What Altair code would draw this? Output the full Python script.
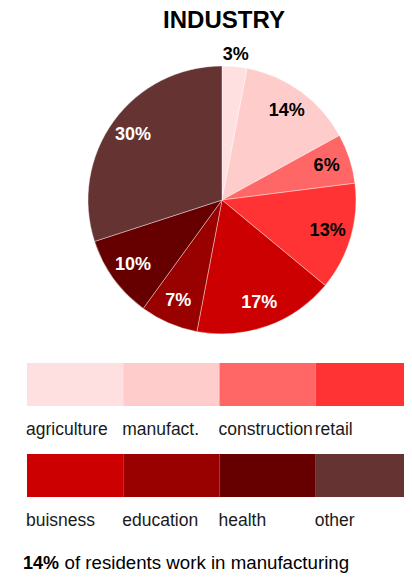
import altair as alt
import pandas as pd

categories = ["agriculture", "manufact.", "construction", "retail",
              "buisness", "education", "health", "other"]
shares = [3, 14, 6, 13, 17, 7, 10, 30]
palette = ["#ffe0e0", "#ffcccc", "#ff6666", "#ff3333",
           "#cc0000", "#990000", "#660000", "#663333"]
title_text = "INDUSTRY"
footer_bold = "14%"
footer_rest = "of residents work in manufacturing"

df = pd.DataFrame({"category": categories, "share": shares,
                   "idx": list(range(len(categories)))})
df["label"] = df["share"].astype(str) + "%"
df["row"] = df["idx"] // 4
df["col"] = df["idx"] % 4

FONT = "Liberation Sans"
W = 396
color_scale = alt.Scale(domain=categories, range=palette)
CX, CY = 214, 192

base = alt.Chart(df).encode(
    theta=alt.Theta("share:Q", stack=True),
    order=alt.Order("idx:Q", sort="ascending"),
    x=alt.value(CX),
    y=alt.value(CY),
)
arcs = base.mark_arc(outerRadius=134, stroke="#ffffff", strokeWidth=0.4).encode(
    color=alt.Color("category:N", scale=color_scale, legend=None)
)
inner = base.mark_text(radius=110, fontSize=18, fontWeight="bold", font=FONT).encode(
    text=alt.condition("datum.share >= 5", alt.Text("label:N"), alt.value("")),
    color=alt.condition("datum.idx < 4", alt.value("#000000"), alt.value("#ffffff")),
)
outer = base.mark_text(radius=146, fontSize=18, fontWeight="bold", font=FONT,
                       color="#000000").encode(
    text=alt.condition("datum.share < 5", alt.Text("label:N"), alt.value("")),
)
title = alt.Chart(pd.DataFrame({"t": [title_text]})).mark_text(
    fontSize=24, fontWeight="bold", font=FONT, color="#000000",
    baseline="alphabetic"
).encode(text="t:N", x=alt.value(216), y=alt.value(20))

pie = alt.layer(arcs, inner, outer, title).properties(width=W, height=355)

xs = alt.Scale(range=[19, 404], paddingInner=0, paddingOuter=0)
ys = alt.Scale(paddingInner=0.527, paddingOuter=0)
rects = alt.Chart(df).mark_rect(clip=True).encode(
    x=alt.X("col:O", axis=None, scale=xs),
    y=alt.Y("row:O", axis=None, scale=ys),
    color=alt.Color("category:N", scale=color_scale, legend=None),
)
leg_text = alt.Chart(df).mark_text(
    align="left", baseline="alphabetic", dy=50.5, dx=-1, fontSize=17.5,
    font=FONT, color="#1a1a1a"
).encode(
    x=alt.X("col:O", axis=None, scale=xs, bandPosition=0),
    y=alt.Y("row:O", axis=None, scale=ys),
    text="category:N",
)
legend = alt.layer(rects, leg_text).properties(width=W, height=134)

fb = alt.Chart(pd.DataFrame({"t": [footer_bold]})).mark_text(
    align="left", baseline="alphabetic", fontSize=18, fontWeight="bold",
    font=FONT, color="#000000"
).encode(text="t:N", x=alt.value(15), y=alt.value(72))
fr = alt.Chart(pd.DataFrame({"t": [footer_rest]})).mark_text(
    align="left", baseline="alphabetic", fontSize=18.7, font=FONT, color="#000000"
).encode(text="t:N", x=alt.value(56.5), y=alt.value(72))
footer = alt.layer(fb, fr).properties(width=W, height=75)

chart = alt.vconcat(pie, legend, footer, spacing=0, bounds="flush",
                    padding=0).configure(font=FONT).configure_view(stroke=None)

chart.save("out.html", embed_options={"renderer": "svg", "actions": False})
